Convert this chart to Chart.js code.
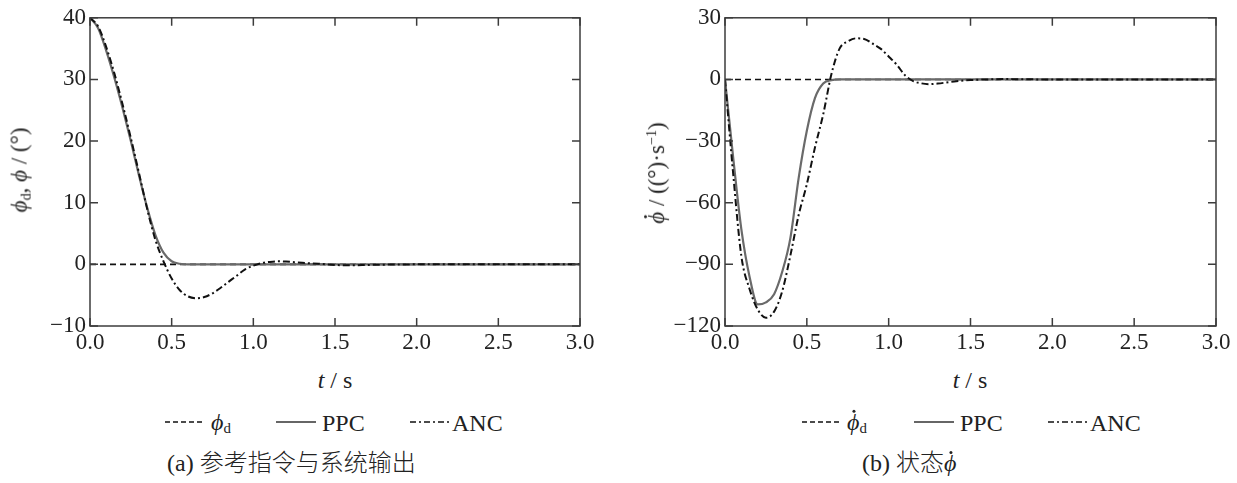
<!DOCTYPE html>
<html>
<head>
<meta charset="utf-8">
<script src="https://cdn.jsdelivr.net/npm/chart.js@4.4.1/dist/chart.umd.min.js"></script>
<style>
  body { margin: 0; background: #fff; width: 1237px; height: 483px; position: relative; overflow: hidden;
         font-family: "Liberation Serif", "DejaVu Serif", serif; color: #222; }
  canvas { position: absolute; top: 0; }
  .txt { position: absolute; white-space: nowrap; transform: translateY(-50%); line-height: 1; }
  .rot { position: absolute; white-space: nowrap; transform: translate(-50%, -50%) rotate(-90deg); line-height: 1; }
  .ctr { transform: translate(-50%, -50%); }
  i { font-style: italic; }
  sub { font-size: 62%; vertical-align: -0.25em; }
  sup { font-size: 62%; vertical-align: 0.55em; }
  .cjk { font-family: "Noto Sans CJK SC", sans-serif; font-weight: 300; }
  .dot { position: relative; display: inline-block; }
  .dot::after { content: ''; position: absolute; left: 58%; top: -0.02em; width: 0.13em; height: 0.13em;
                border-radius: 50%; background: #222; transform: translateX(-50%); }
  svg { position: absolute; }
</style>
</head>
<body>
<canvas id="chartA" width="620" height="360" style="left:0"></canvas>
<canvas id="chartB" width="621" height="360" style="left:635px"></canvas>

<!-- axis titles -->
<div class="rot" style="left:20px; top:170px; font-size:23px;"><i>ϕ</i><sub>d</sub>, <i>ϕ</i> / (°)</div>
<div class="rot" style="left:656px; top:173px; font-size:23px;"><i class="dot">ϕ</i> / ((°)·s<sup>−1</sup>)</div>
<div class="txt ctr" style="left:335px; top:380px; font-size:24px;"><i>t</i> / s</div>
<div class="txt ctr" style="left:970px; top:380px; font-size:24px;"><i>t</i> / s</div>

<!-- legends -->
<svg style="left:165px; top:417px" width="40" height="10"><line x1="0" y1="5" x2="40" y2="5" stroke="#111" stroke-width="1.5" stroke-dasharray="5,3"/></svg>
<div class="txt" style="left:211px; top:423px; font-size:24px;"><i>ϕ</i><sub>d</sub></div>
<svg style="left:276px; top:417px" width="40" height="10"><line x1="0" y1="5" x2="40" y2="5" stroke="#666" stroke-width="1.8"/></svg>
<div class="txt" style="left:322px; top:423px; font-size:24px;">PPC</div>
<svg style="left:410px; top:417px" width="40" height="10"><line x1="0" y1="5" x2="40" y2="5" stroke="#111" stroke-width="1.5" stroke-dasharray="6,3,2,3"/></svg>
<div class="txt" style="left:452px; top:423px; font-size:24px;">ANC</div>

<svg style="left:802px; top:417px" width="40" height="10"><line x1="0" y1="5" x2="40" y2="5" stroke="#111" stroke-width="1.5" stroke-dasharray="5,3"/></svg>
<div class="txt" style="left:847px; top:423px; font-size:24px;"><i class="dot">ϕ</i><sub>d</sub></div>
<svg style="left:914px; top:417px" width="40" height="10"><line x1="0" y1="5" x2="40" y2="5" stroke="#666" stroke-width="1.8"/></svg>
<div class="txt" style="left:960px; top:423px; font-size:24px;">PPC</div>
<svg style="left:1048px; top:417px" width="40" height="10"><line x1="0" y1="5" x2="40" y2="5" stroke="#111" stroke-width="1.5" stroke-dasharray="6,3,2,3"/></svg>
<div class="txt" style="left:1090px; top:423px; font-size:24px;">ANC</div>

<!-- captions -->
<div class="txt" style="left:167px; top:462px; font-size:24px;">(a) <span class="cjk">参考指令与系统输出</span></div>
<div class="txt" style="left:862px; top:462px; font-size:24px;">(b) <span class="cjk">状态</span><i class="dot">ϕ</i></div>

<script>
// sample times (s)
const time = [0, 0.05, 0.1, 0.15, 0.2, 0.25, 0.3, 0.35, 0.4, 0.45, 0.5, 0.55, 0.6, 0.65, 0.7, 0.75, 0.8, 0.85, 0.9, 0.95,
              1.0, 1.05, 1.1, 1.15, 1.2, 1.25, 1.3, 1.4, 1.5, 1.6, 1.7, 1.8, 2.0, 2.5, 3.0];
const refTime = [0, 3.0];

// (a) angle phi (deg)
const phiRef = [0, 0];
const phiPPC = [40, 38.3, 34.6, 30.2, 25.3, 20, 14.4, 9.2, 4.8, 1.9, 0.5, 0.1, 0, 0, 0, 0, 0, 0, 0, 0,
                0, 0, 0, 0, 0, 0, 0, 0, 0, 0, 0, 0, 0, 0, 0];
const phiANC = [40, 38.6, 35.2, 30.9, 25.9, 20.5, 14.8, 9.0, 4.0, 0.5, -2.3, -4.2, -5.2, -5.5, -5.3, -4.7, -3.8, -2.8, -1.8, -0.8,
                -0.2, 0.2, 0.4, 0.5, 0.45, 0.35, 0.25, 0.1, -0.1, -0.15, -0.1, -0.05, 0, 0, 0];

// (b) rate phi-dot (deg/s)
const rateRef = [0, 0];
const ratePPC = [0, -38, -73, -96, -109.5, -108.5, -104.5, -93.5, -77, -48, -25, -9, -2, -0.3, 0, 0, 0, 0, 0, 0,
                 0, 0, 0, 0, 0, 0, 0, 0, 0, 0, 0, 0, 0, 0, 0];
const rateANC = [0, -46, -86, -102, -112, -116, -113, -103, -85.5, -66, -51, -33, -17, 2.5, 15, 18.5, 20, 19.7, 17.5, 15,
                 11.2, 7.1, 2.0, -0.8, -1.9, -2.3, -2, -1, -0.3, 0, 0.2, 0.1, 0, 0, 0];

const xTicks = [0, 0.5, 1.0, 1.5, 2.0, 2.5, 3.0];
const yTicksA = [-10, 0, 10, 20, 30, 40];
const yTicksB = [-120, -90, -60, -30, 0, 30];

const FONT = "'Liberation Serif', 'DejaVu Serif', serif";
const FRAME = '#3c3c3c';

function pts(xs, ys) {
    return xs.map((x, i) => ({ x: x, y: ys[i] }));
}

//----------------------------------------------
// frame + inward ticks on all four sides
//----------------------------------------------
const framePlugin = {
    id: 'frame',
    afterDraw(chart) {
        const ctx = chart.ctx;
        const a = chart.chartArea;
        const xs = chart.scales.x, ys = chart.scales.y;
        const len = 8;
        ctx.save();
        ctx.strokeStyle = FRAME;
        ctx.lineWidth = 1.5;
        ctx.strokeRect(a.left, a.top, a.right - a.left, a.bottom - a.top);
        ctx.beginPath();
        xTicks.forEach(v => {
            const px = xs.getPixelForValue(v);
            ctx.moveTo(px, a.bottom); ctx.lineTo(px, a.bottom - len);
            ctx.moveTo(px, a.top); ctx.lineTo(px, a.top + len);
        });
        chart.options.yTickList.forEach(v => {
            const py = ys.getPixelForValue(v);
            ctx.moveTo(a.left, py); ctx.lineTo(a.left + len, py);
            ctx.moveTo(a.right, py); ctx.lineTo(a.right - len, py);
        });
        ctx.stroke();
        ctx.restore();
    }
};

function makeChart(id, refY, ppcY, ancY, yMin, yMax, yStep, yTickList) {
    return new Chart(document.getElementById(id), {
        type: 'line',
        data: {
            datasets: [
                { data: pts(refTime, refY), borderColor: '#111', borderWidth: 1.6, borderDash: [6, 4], order: 3 },
                { data: pts(time, ppcY), borderColor: '#6a6a6a', borderWidth: 2.2, order: 2 },
                { data: pts(time, ancY), borderColor: '#111', borderWidth: 2, borderDash: [7, 3, 2, 3], order: 1 }
            ]
        },
        options: {
            responsive: false,
            devicePixelRatio: 1,
            animation: false,
            yTickList: yTickList,
            layout: { padding: { left: 0, right: 40, top: 16, bottom: 0 } },
            elements: {
                point: { radius: 0 },
                line: { cubicInterpolationMode: 'monotone', fill: false }
            },
            plugins: { legend: { display: false }, tooltip: { enabled: false } },
            scales: {
                x: {
                    type: 'linear', min: 0, max: 3,
                    grid: { display: false, drawTicks: false },
                    border: { display: false },
                    afterFit: s => { s.height = 34; },
                    ticks: {
                        stepSize: 0.5, padding: 3, color: '#222', maxRotation: 0,
                        font: { family: FONT, size: 23 },
                        callback: v => v.toFixed(1)
                    }
                },
                y: {
                    min: yMin, max: yMax,
                    grid: { display: false, drawTicks: false },
                    border: { display: false },
                    afterFit: s => { s.width = 90; },
                    ticks: {
                        stepSize: yStep, padding: 4, color: '#222',
                        font: { family: FONT, size: 23 },
                        callback: v => String(v).replace('-', '\u2212')
                    }
                }
            }
        },
        plugins: [framePlugin]
    });
}

makeChart('chartA', phiRef, phiPPC, phiANC, -10, 40, 10, yTicksA);
makeChart('chartB', rateRef, ratePPC, rateANC, -120, 30, 30, yTicksB);
</script>
</body>
</html>
